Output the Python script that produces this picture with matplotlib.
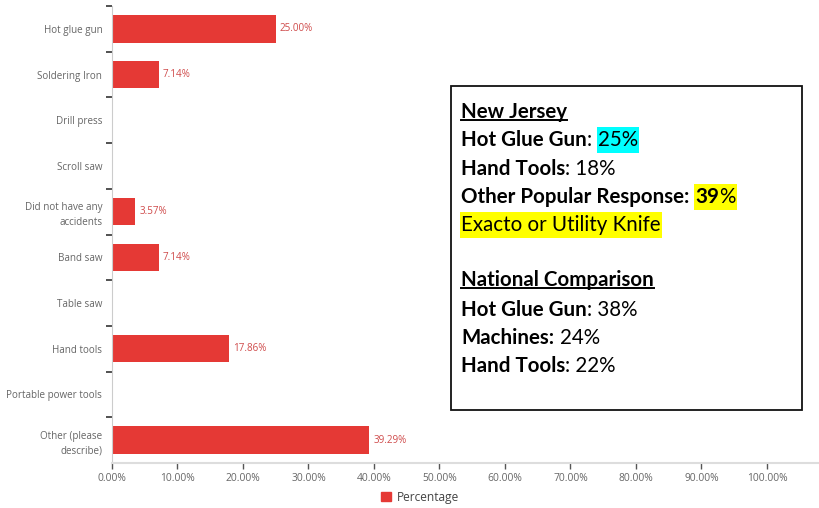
import matplotlib
matplotlib.use("Agg")
import matplotlib.pyplot as plt
from matplotlib.patches import Rectangle
from matplotlib.lines import Line2D

# data
categories = ["Hot glue gun", "Soldering Iron", "Drill press", "Scroll saw",
              "Did not have any\naccidents", "Band saw", "Table saw", "Hand tools",
              "Portable power tools", "Other (please\ndescribe)"]
percentages = [25.00, 7.14, 0, 0, 3.57, 7.14, 0, 17.86, 0, 39.29]
xticks = [0, 10, 20, 30, 40, 50, 60, 70, 80, 90, 100]

bar_color = "#e53935"
label_color = "#cf4b4b"
grey = "#666666"

W, H = 820, 508
fig = plt.figure(figsize=(8.2, 5.08), dpi=100)
ax = fig.add_axes([112 / W, 1 - 463 / H, 1 - 112 / W, 457 / H])

y = list(range(len(categories)))
ax.barh(y, percentages, height=0.6, color=bar_color)
for yi, v in zip(y, percentages):
    if v > 0:
        ax.text(v + 0.6, yi, f"{v:.2f}%", va="center", ha="left",
                fontsize=7.1, color=label_color, family="Open Sans")

ax.set_xlim(0, 108.1)
ax.set_ylim(len(categories) - 0.5, -0.5)
ax.set_xticks(xticks)
ax.set_xticklabels([f"{t:.2f}%" for t in xticks], fontsize=7.4, color=grey,
                   family="Open Sans")
ax.set_yticks(y)
ax.set_yticklabels(categories, fontsize=7.1, color=grey, family="Open Sans",
                   linespacing=1.45)
ax.set_yticks([k - 0.5 for k in range(len(categories))], minor=True)
ax.tick_params(axis="y", which="major", length=0, pad=7)
ax.tick_params(axis="y", which="minor", length=4, width=1.2, color="#333333")
ax.tick_params(axis="x", length=4, width=1, color="#555555", pad=3, direction="out")
for s in ["top", "right"]:
    ax.spines[s].set_visible(False)
ax.spines["left"].set_color("#cccccc")
ax.spines["bottom"].set_color("#dddddd")
ax.spines["bottom"].set_linewidth(1.5)

# legend
handle = Rectangle((0, 0), 1, 1, color=bar_color)
fig.legend([handle], ["Percentage"], loc="center", bbox_to_anchor=(420 / W, 1 - 497 / H),
           frameon=False, prop={"family": "Open Sans", "size": 8.6},
           handlelength=0.8, handleheight=0.8, handletextpad=0.5,
           labelcolor="#444444")

# summary box
fig.patches.append(Rectangle((451 / W, 1 - 410 / H), (802 - 451) / W, (410 - 86) / H,
                             transform=fig.transFigure, fill=False,
                             edgecolor="#111111", linewidth=1.3))

box_font = "Lato"
fs = 14.8
x0 = 461 / W
lines = [
    (112, [("New Jersey", True, None)]),
    (140, [("Hot Glue Gun", True, None), (":", False, None), ("25%", False, "#00ffff")]),
    (169, [("Hand Tools", True, None), (": 18%", False, None)]),
    (197, [("Other Popular Response:", True, None), ("39", True, "#ffff00"),
           ("%", False, "#ffff00")]),
    (225, [("Exacto or Utility Knife", False, "#ffff00")]),
    (280, [("National Comparison", True, None)]),
    (310, [("Hot Glue Gun", True, None), (": 38%", False, None)]),
    (338, [("Machines:", True, None), ("24%", False, None)]),
    (366, [("Hand Tools", True, None), (": 22%", False, None)]),
]

fig.canvas.draw()
r = fig.canvas.get_renderer()
underlined = []
highlighted = []
for ypix, parts in lines:
    xpix = x0 * W
    for txt, bold, hl in parts:
        t = fig.text(xpix / W, 1 - ypix / H, txt, fontsize=fs, family=box_font,
                     color="black", fontweight="bold" if bold else "normal",
                     va="center", ha="left", zorder=3)
        bb = t.get_window_extent(r)
        if hl:
            highlighted.append((bb.x0, bb.x1, ypix, hl))
        if txt in ("New Jersey", "National Comparison"):
            underlined.append(bb)
        xpix = bb.x1
        if txt.endswith(":"):
            xpix += 6

for xa, xb, ypix, hl in highlighted:
    fig.patches.append(Rectangle(((xa - 1) / W, 1 - (ypix + 13) / H), (xb - xa + 2) / W, 26 / H,
                                 transform=fig.transFigure, facecolor=hl,
                                 edgecolor="none", zorder=1))

for bb in underlined:
    yline = (bb.y0 + 2) / H
    fig.add_artist(Line2D([bb.x0 / W, bb.x1 / W], [yline, yline],
                          transform=fig.transFigure, color="black", linewidth=1.4))

fig.savefig("out.png", dpi=100)
